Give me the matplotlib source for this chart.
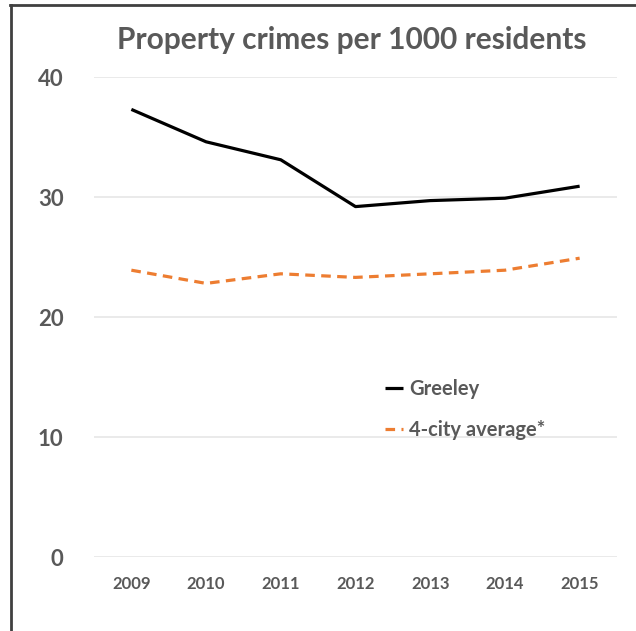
import matplotlib.pyplot as plt
from matplotlib.lines import Line2D

# ── Data ──────────────────────────────────────────────────────
years   = ['2009', '2010', '2011', '2012', '2013', '2014', '2015']
greeley = [37.3, 34.6, 33.1, 29.2, 29.7, 29.9, 30.9]
avg4    = [23.9, 22.8, 23.6, 23.3, 23.6, 23.9, 24.9]
yticks  = [0, 10, 20, 30, 40]

GRAY = '#595959'
plt.rcParams['font.family'] = ['Lato', 'DejaVu Sans']

# ── Plot ──────────────────────────────────────────────────────
fig = plt.figure(figsize=(6.36, 6.31), dpi=100)
ax = fig.add_axes([94/636, 1-557/631, (617-94)/636, (557-77)/631])

x = range(len(years))
ax.plot(x, greeley, color='black', lw=2.3, label='Greeley', solid_capstyle='butt')
ax.plot(x, avg4, color='#ED7D31', lw=2.3, ls=(0, (3, 2)), label='4-city average*')

ax.set_xlim(-0.5, len(years) - 0.5)
ax.set_ylim(0, 40)
ax.set_yticks(yticks)
ax.set_xticks(list(x))
ax.set_xticklabels(years)
ax.tick_params(axis='y', length=0, pad=22, labelsize=16, labelcolor=GRAY)
ax.tick_params(axis='x', length=0, pad=14, labelsize=12, labelcolor=GRAY)
for lab in ax.get_xticklabels() + ax.get_yticklabels():
    lab.set_fontweight('bold')
ax.grid(axis='y', color='#e6e6e6', lw=1.2)
ax.set_axisbelow(True)
for s in ax.spines.values():
    s.set_visible(False)

fig.text(352/636, 1-40/631, 'Property crimes per 1000 residents', ha='center', va='center',
         fontsize=21.5, fontweight='bold', color=GRAY)

leg = ax.legend(loc='upper left', bbox_to_anchor=(367/636, 1-361/631),
                bbox_transform=fig.transFigure, frameon=False, fontsize=14.5,
                handlelength=0.9, handletextpad=0.3, labelspacing=1.05)
for t in leg.get_texts():
    t.set_color(GRAY); t.set_fontweight('bold')

# frame border at top and left
fig.add_artist(Line2D([10/636, 1], [1-5/631, 1-5/631], color='#404040', lw=2))
fig.add_artist(Line2D([11/636, 11/636], [0, 1-5/631], color='#404040', lw=2))

plt.savefig('out.png', dpi=100)
